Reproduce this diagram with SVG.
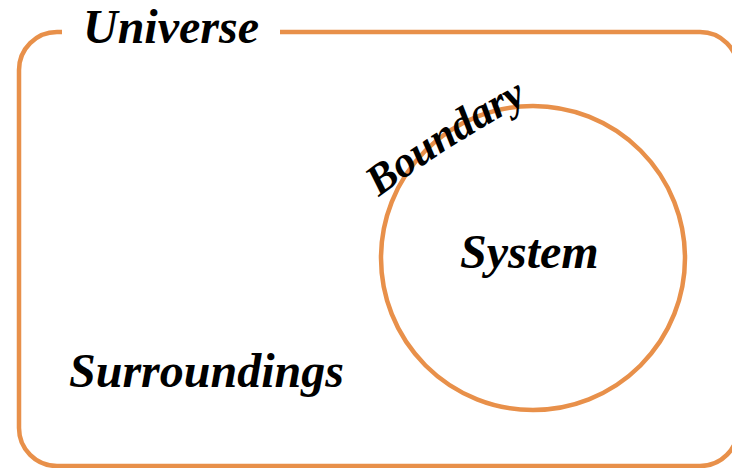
<svg xmlns="http://www.w3.org/2000/svg" width="732" height="468" viewBox="0 0 732 468">
<style>
.ln{fill:none;stroke:#E8904A;stroke-width:4.5}
.t{font-family:"Liberation Serif","Times New Roman",serif;font-weight:bold;font-style:italic;fill:#000}
</style>
<defs>
<path id="bpath" d="M 379 197 Q 446 146 532 100"/>
</defs>
<rect width="732" height="468" fill="#fff"/>
<g id="universe">
<rect class="ln" x="19" y="32" width="719" height="434" rx="38"/>
<rect x="62" y="20" width="218" height="26" fill="#fff"/>
<text class="t" x="83" y="43" font-size="48">Universe</text>
</g>
<g id="system">
<circle class="ln" cx="533" cy="258" r="152"/>
<text class="t" x="460" y="268" font-size="48">System</text>
</g>
<g id="boundary">
<text class="t" font-size="43"><textPath href="#bpath">Boundary</textPath></text>
</g>
<g id="surroundings">
<text class="t" x="69" y="387" font-size="48">Surroundings</text>
</g>
<g id="connectors"/>
</svg>
